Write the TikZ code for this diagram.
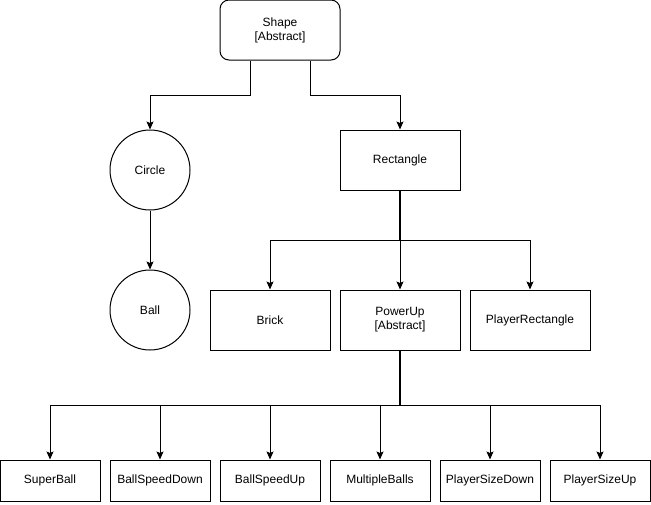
\documentclass[tikz,border=0pt]{standalone}
\usepackage{fontspec}
\setmainfont{Liberation Sans}
\usetikzlibrary{shapes.geometric, arrows.meta}
\tikzstyle{abstract} = [rectangle, rounded corners=9pt, minimum width=120pt, minimum height=60pt, text centered, align=center, draw=black, line width=1pt]
\tikzstyle{process} = [rectangle, minimum width=120pt, minimum height=60pt, text centered, align=center, draw=black, line width=1pt]
\tikzstyle{leaf} = [rectangle, minimum width=100pt, minimum height=41pt, text centered, draw=black, line width=1pt]
\tikzstyle{round} = [circle, minimum size=80pt, inner sep=0pt, text centered, draw=black, line width=1pt]
\tikzstyle{arrow} = [line width=1pt, -{Stealth[length=8pt, width=7pt, inset=1.5pt]}]
\tikzstyle{trunk} = [line width=1.8pt]

\begin{document}
\begin{tikzpicture}[x=1pt, y=-1pt, font=\fontsize{12}{14}\selectfont]

    \useasboundingbox (0,0) rectangle (651,504);

    \node (shape) [abstract] at (280,30) {Shape\\{}[Abstract]};
    \node (circ) [round] at (150,170) {Circle};
    \node (ball) [round] at (150,310) {Ball};
    \node (rect) [process] at (400,160) {Rectangle};
    \node (brick) [process] at (270,320) {Brick};
    \node (powerup) [process] at (400,320) {PowerUp\\{}[Abstract]};
    \node (playerrect) [process] at (530,320) {PlayerRectangle};

    \node (superball) [leaf] at (50,480.5) {SuperBall};
    \node (speeddown) [leaf] at (160,480.5) {BallSpeedDown};
    \node (speedup) [leaf] at (270,480.5) {BallSpeedUp};
    \node (multiple) [leaf] at (380,480.5) {MultipleBalls};
    \node (sizedown) [leaf] at (490,480.5) {PlayerSizeDown};
    \node (sizeup) [leaf] at (600,480.5) {PlayerSizeUp};

    \draw [arrow] ([xshift=-30pt]shape.south) -- ++(0,35) -| (circ);
    \draw [arrow] ([xshift=30pt]shape.south) -- ++(0,35) -| (rect);
    \draw [arrow] (circ) -- (ball);

    \draw [trunk] (rect.south) -- ++(0,50) coordinate (split1);
    \foreach \n in {brick, powerup, playerrect}
        \draw [arrow] (split1) -| (\n);

    \draw [trunk] (powerup.south) -- ++(0,55) coordinate (split2);
    \foreach \n in {superball, speeddown, speedup, multiple, sizedown, sizeup}
        \draw [arrow] (split2) -| (\n);

\end{tikzpicture}
\end{document}
